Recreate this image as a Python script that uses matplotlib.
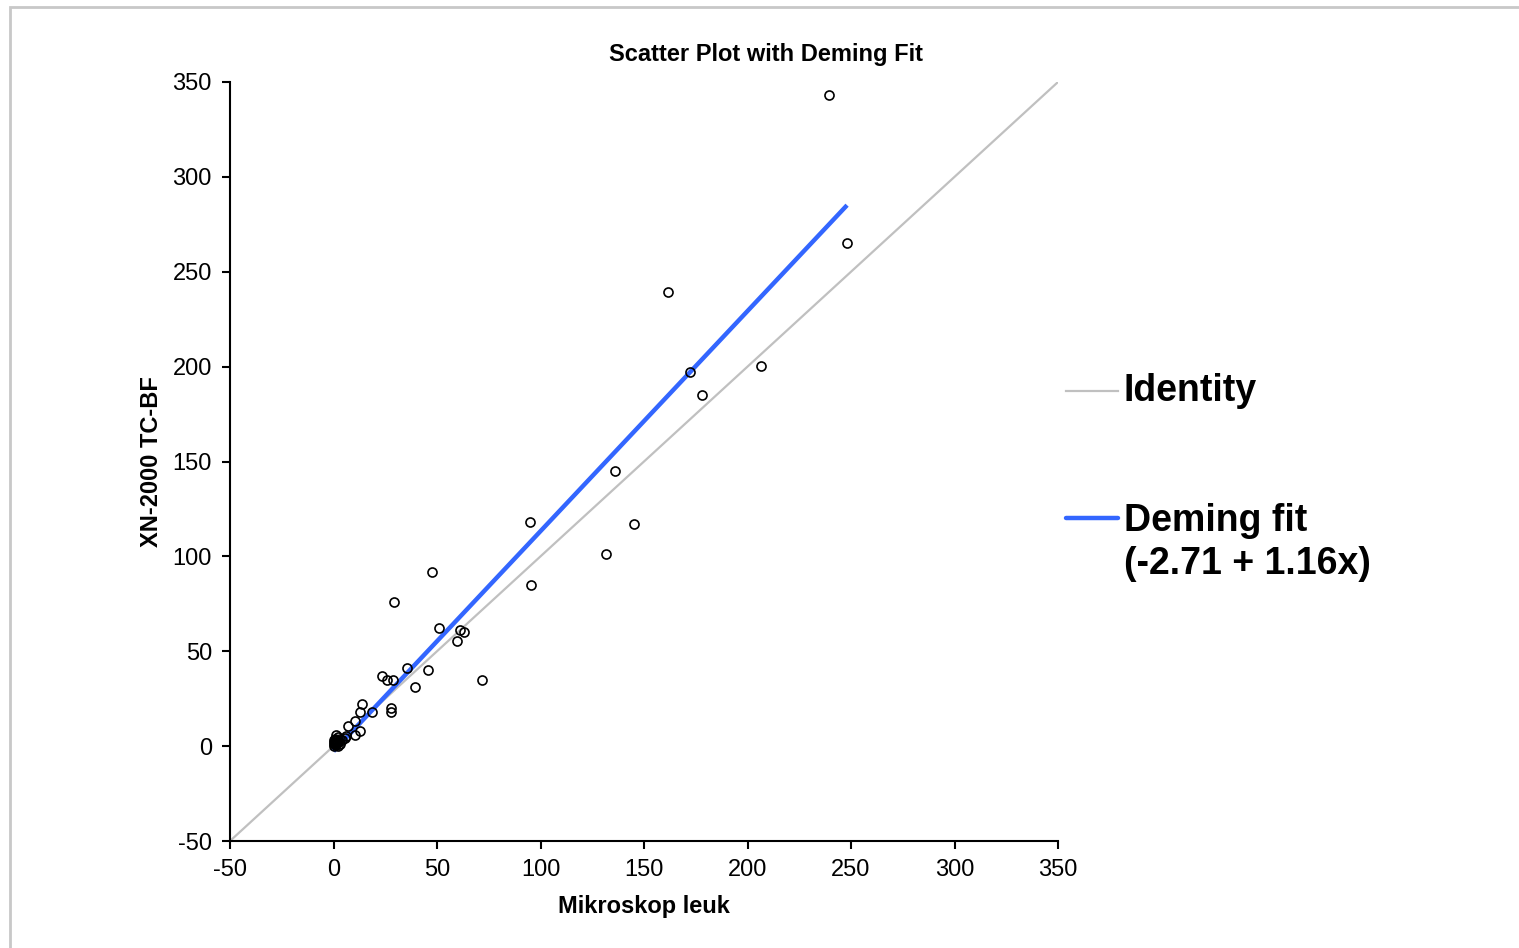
import numpy as np
import matplotlib
matplotlib.use("Agg")
import matplotlib.pyplot as plt
from matplotlib.lines import Line2D
from matplotlib.patches import Rectangle

plt.rcParams['font.family'] = ['Liberation Sans', 'DejaVu Sans']
plt.rcParams['axes.unicode_minus'] = False

# data
mikroskop = [239.4, 248.1, 161.6, 172.2, 206.5, 178.0, 136.0, 145.2, 131.6, 94.9,
             95.4, 47.6, 29.2, 51.0, 61.1, 63.1, 59.7, 35.5, 45.7, 71.7,
             39.4, 23.4, 25.8, 28.7, 13.8, 12.6, 18.6, 27.8, 27.8, 10.4,
             12.6, 7.0, 10.4, 6.0, 5.5,
             0, 0, 0, 1, 1, 0.5, 1, 2, 2, 3, 4, 3, 0, 1, 2, 0.5, 1.5]
xn2000 = [343.1, 265.1, 239.3, 197.1, 200.3, 185.0, 144.9, 117.0, 101.2, 118.0,
          84.8, 91.7, 75.9, 62.2, 61.1, 60.1, 55.3, 41.1, 40.1, 34.8,
          31.1, 36.9, 34.8, 34.8, 22.1, 17.9, 17.9, 20.0, 17.9, 13.2,
          7.9, 10.5, 5.8, 5.3, 4.5,
          0, 1, 2, 3, 0.5, 4, 6, 2, 5, 1, 3, 4, 3, 1, 0, 2, 1.5]

intercept = -2.71
slope = 1.16
ticks = [-50, 0, 50, 100, 150, 200, 250, 300, 350]

fig = plt.figure(figsize=(15.19, 9.48), dpi=100)
ax = fig.add_axes([230/1519, 1-841/948, (1058-230)/1519, (841-82)/948])

# identity line
ax.plot([-50, 350], [-50, 350], color='#c0c0c0', lw=1.6, zorder=1)

# deming fit over range of x data
xs = np.array([min(mikroskop), max(mikroskop)])
ax.plot(xs, intercept + slope*xs, color='#3366ff', lw=3.2, zorder=2,
        solid_capstyle='butt')

ax.plot(mikroskop, xn2000, 'o', mfc='none', mec='black', ms=6.5, mew=1.2,
        zorder=3, clip_on=False)

ax.set_xlim(-50, 350)
ax.set_ylim(-50, 350)
ax.set_xticks(ticks)
ax.set_yticks(ticks)
ax.tick_params(direction='out', length=6, width=1.5, labelsize=17)
ax.tick_params(axis='x', pad=7)
ax.tick_params(axis='y', pad=7)
for s in ['top', 'right']:
    ax.spines[s].set_visible(False)
for s in ['left', 'bottom']:
    ax.spines[s].set_linewidth(1.5)

ax.set_xlabel('Mikroskop leuk', fontsize=17, fontweight='bold', labelpad=10)
ax.set_ylabel('XN-2000 TC-BF', fontsize=17, fontweight='bold', labelpad=7)

fig.text(766/1519, 1-54/948, 'Scatter Plot with Deming Fit', ha='center',
         va='center', fontsize=17, fontweight='bold')

# legend drawn by hand
fig.add_artist(Line2D([1066/1519, 1118/1519], [1-391/948, 1-391/948],
                      color='#c0c0c0', lw=1.6, transform=fig.transFigure))
fig.text(1124/1519, 1-391/948, 'Identity', ha='left', va='center',
         fontsize=27, fontweight='bold')
fig.add_artist(Line2D([1066/1519, 1118/1519], [1-518/948, 1-518/948],
                      color='#3366ff', lw=3.2, transform=fig.transFigure,
                      solid_capstyle='round'))
fig.text(1124/1519, 1-503/948, 'Deming fit\n(-2.71 + 1.16x)', ha='left',
         va='top', fontsize=27, fontweight='bold', linespacing=1.25)

# outer frame
fig.add_artist(Rectangle((10/1519, -0.05), 1.2, 1-7/948+0.05, fill=False,
                         edgecolor='#c8c8c8', lw=2, transform=fig.transFigure))

fig.savefig('out.png', dpi=100)
